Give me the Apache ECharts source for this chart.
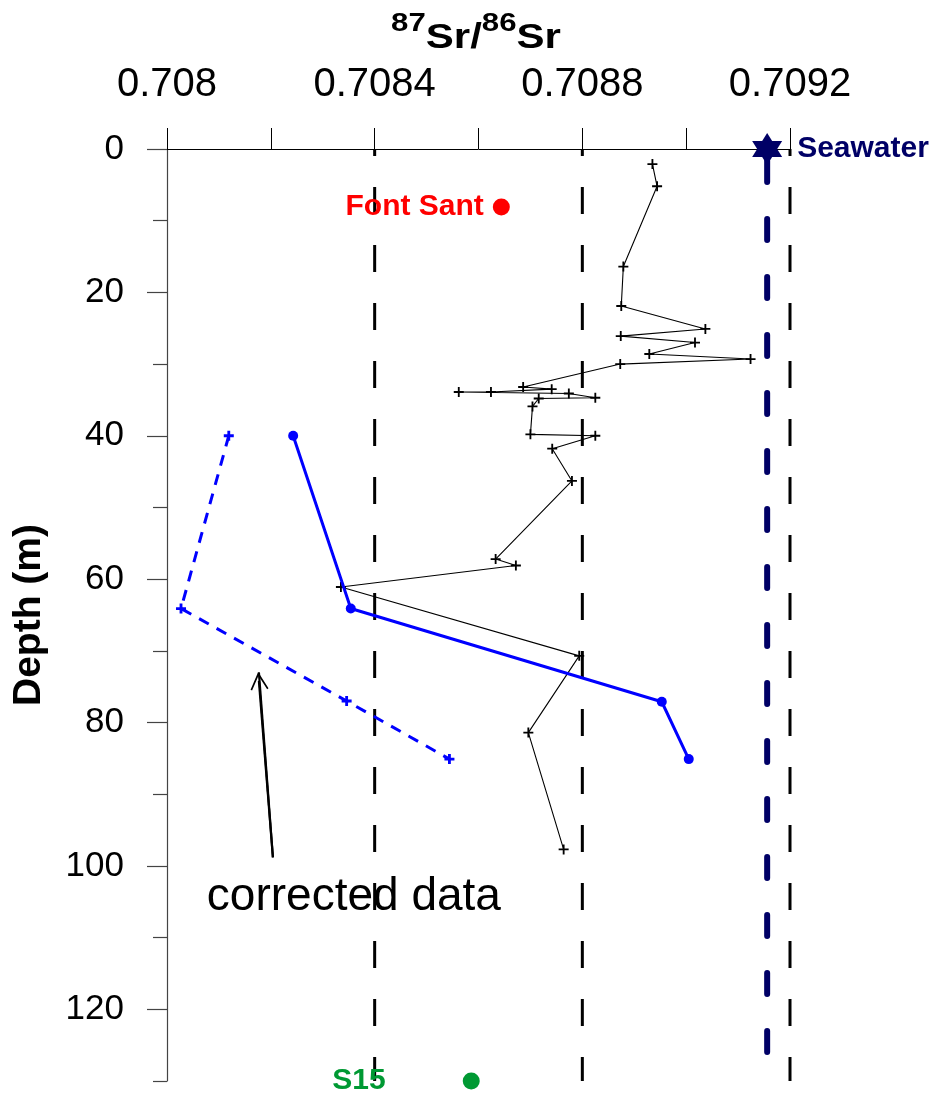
<!DOCTYPE html>
<html>
<head>
<meta charset="utf-8">
<script src="https://cdn.jsdelivr.net/npm/echarts@6/dist/echarts.min.js"></script>
<style>
html,body{margin:0;padding:0;background:#fff;}
#chart{width:932px;height:1100px;}
</style>
</head>
<body>
<div id="chart"></div>
<script>
// ---- data (x = 87Sr/86Sr, y = depth in m) ----
const measured = [
  [0.708935, 2.1], [0.708944, 5.2], [0.708879, 16.4], [0.708875, 21.9],
  [0.709037, 25.1], [0.708874, 26.1], [0.709017, 27.0], [0.708929, 28.6],
  [0.709124, 29.3], [0.708873, 30.0], [0.708686, 33.2], [0.708741, 33.5],
  [0.708624, 33.9], [0.708562, 33.9], [0.708774, 34.1], [0.708825, 34.7],
  [0.708716, 34.8], [0.708704, 35.9], [0.708700, 39.8], [0.708825, 40.0],
  [0.708742, 41.8], [0.708780, 46.3], [0.708633, 57.2], [0.708672, 58.1],
  [0.708335, 61.1], [0.708794, 70.7], [0.708696, 81.4], [0.708764, 97.7]
];
const blueSolid = [[0.708243, 40.0], [0.708354, 64.1], [0.708953, 77.1], [0.709005, 85.1]];
const corrected = [[0.708119, 40.0], [0.708027, 64.1], [0.708346, 77.0], [0.708544, 85.1]];
const guideValues = [0.7084, 0.7088, 0.7092];
const seawaterValue = 0.709156;
const fontSant = [0.708644, 8.1];
const s15 = [0.708586, 130];
const depthRange = [0, 130];
const xRange = [0.708, 0.7092];
const yTickValues = [0, 20, 40, 60, 80, 100, 120];
const yMinorTickValues = [10, 30, 50, 70, 90, 110, 130];
const arrowTail = [0.708204, 98.8];
const arrowTip = [0.708177, 73.0];
const arrowHeadCenter = [0.708177, 74.2];
const noteAnchor = [0.708360, 104.4];

const FONT = 'Liberation Sans';
const NAVY = '#000066';
const plusBlack = 'path://M-1.1,-6 L1.1,-6 L1.1,-1.1 L6,-1.1 L6,1.1 L1.1,1.1 L1.1,6 L-1.1,6 L-1.1,1.1 L-6,1.1 L-6,-1.1 L-1.1,-1.1 Z';
const plusBlue = 'path://M-1.7,-6 L1.7,-6 L1.7,-1.7 L6,-1.7 L6,1.7 L1.7,1.7 L1.7,6 L-1.7,6 L-1.7,1.7 L-6,1.7 L-6,-1.7 L-1.7,-1.7 Z';
const star6 = 'path://M0,-1 L0.866,0.5 L-0.866,0.5 Z M0,1 L-0.866,-0.5 L0.866,-0.5 Z';
const chevron = 'path://M0,0 L10,17 L8.4,18 L0,3.8 L-8.4,18 L-10,17 Z';

const chart = echarts.init(document.getElementById('chart'), null, {renderer: 'canvas'});

const guideSeries = guideValues.map(v => ({
  type: 'line', xAxisIndex: 0, yAxisIndex: 0, silent: true, clip: false,
  data: [[v, depthRange[0]], [v, depthRange[1]]],
  symbol: 'none',
  lineStyle: {color: '#000', width: 3, type: [27, 31], dashOffset: 20},
  z: 1
}));

const option = {
  animation: false,
  backgroundColor: '#fff',
  grid: {left: 167, right: 142, top: 149, bottom: 19, containLabel: false},
  xAxis: {
    type: 'value', position: 'top',
    min: xRange[0], max: xRange[1], interval: 0.0004,
    axisLine: {show: true, onZero: false, lineStyle: {color: '#000', width: 1}},
    axisTick: {show: true, inside: false, length: 21, lineStyle: {color: '#000', width: 1}},
    minorTick: {show: true, splitNumber: 2, length: 21, lineStyle: {color: '#000', width: 1}},
    splitLine: {show: false},
    axisLabel: {
      fontFamily: FONT, fontSize: 40, color: '#000', margin: 44,
      formatter: v => String(parseFloat(v.toFixed(5)))
    }
  },
  yAxis: [{
    type: 'value', inverse: true, position: 'left',
    min: depthRange[0], max: depthRange[1],
    name: 'Depth (m)', nameLocation: 'middle', nameRotate: 90, nameGap: 118,
    nameTextStyle: {fontFamily: FONT, fontSize: 39, fontWeight: 'bold', color: '#000'},
    axisLine: {show: true, onZero: false, lineStyle: {color: '#444', width: 1.2}},
    axisTick: {show: true, length: 20, customValues: yTickValues, lineStyle: {color: '#444', width: 1.2}},
    axisLabel: {fontFamily: FONT, fontSize: 35, color: '#000', margin: 43, customValues: yTickValues},
    splitLine: {show: false}
  }, {
    type: 'value', inverse: true, position: 'left',
    min: depthRange[0], max: depthRange[1],
    axisLine: {show: false},
    axisTick: {show: true, length: 14, customValues: yMinorTickValues, lineStyle: {color: '#444', width: 1.2}},
    axisLabel: {show: false},
    splitLine: {show: false}
  }],
  graphic: [{
    type: 'text', x: 476, y: 38, scaleX: 1.2,
    style: {
      text: '{sup|87}{main|Sr/}{sup|86}{main|Sr}',
      textAlign: 'center', textVerticalAlign: 'middle',
      fill: '#000',
      rich: {
        sup: {fontFamily: FONT, fontSize: 26, fontWeight: 'bold', fill: '#000', lineHeight: 26, verticalAlign: 'top'},
        main: {fontFamily: FONT, fontSize: 35, fontWeight: 'bold', fill: '#000', lineHeight: 54, verticalAlign: 'middle'}
      }
    }
  }],
  series: guideSeries.concat([
    {
      type: 'line', silent: true, clip: false,
      data: [[seawaterValue, depthRange[0]], [seawaterValue, depthRange[1]]],
      symbol: 'none',
      lineStyle: {color: NAVY, width: 6, type: [21, 37], dashOffset: 46, cap: 'round'},
      z: 2
    },
    {
      type: 'line', name: 'measured', data: measured,
      symbol: plusBlack, symbolSize: 10,
      itemStyle: {color: '#000'},
      lineStyle: {color: '#000', width: 1.1},
      z: 3
    },
    {
      type: 'line', name: 'solid', data: blueSolid,
      symbol: 'circle', symbolSize: 10,
      itemStyle: {color: '#0000ff'},
      lineStyle: {color: '#0000ff', width: 3},
      z: 4
    },
    {
      type: 'line', name: 'corrected', data: corrected,
      symbol: plusBlue, symbolSize: 10,
      itemStyle: {color: '#0000ff'},
      lineStyle: {color: '#0000ff', width: 3, type: [11, 9]},
      z: 4
    },
    {
      type: 'line', silent: true, data: [arrowTail, arrowTip], symbol: 'none',
      lineStyle: {color: '#000', width: 2.2},
      markLine: {
        silent: true, animation: false,
        symbol: ['none', chevron], symbolSize: 18,
        lineStyle: {color: '#000', width: 2.2, type: 'solid'},
        label: {show: false},
        data: [[{coord: arrowTail}, {coord: arrowHeadCenter}]]
      },
      z: 5
    },
    {
      type: 'scatter', silent: true, clip: false,
      data: [{name: 'corrected data', value: noteAnchor}],
      symbolSize: 1, itemStyle: {color: 'rgba(0,0,0,0)', opacity: 1},
      label: {show: true, position: 'inside', formatter: '{b}', fontFamily: FONT, fontSize: 46, color: '#000'},
      z: 6
    },
    {
      type: 'scatter', clip: false,
      data: [{name: 'Font Sant', value: fontSant}],
      symbol: 'circle', symbolSize: 17, itemStyle: {color: '#ff0000', opacity: 1},
      label: {show: true, position: 'left', distance: 9, formatter: '{b}', fontFamily: FONT, fontSize: 30, fontWeight: 'bold', color: '#ff0000'},
      z: 6
    },
    {
      type: 'scatter', clip: false,
      data: [{name: 'S15', value: s15}],
      symbol: 'circle', symbolSize: 17, itemStyle: {color: '#009933', opacity: 1},
      label: {show: true, position: 'left', distance: 77, formatter: '{b}', fontFamily: FONT, fontSize: 30, fontWeight: 'bold', color: '#009933'},
      z: 6
    },
    {
      type: 'scatter', clip: false,
      data: [{name: 'Seawater', value: [seawaterValue, 0]}],
      symbol: star6, symbolSize: [30, 32], itemStyle: {color: NAVY, opacity: 1},
      label: {show: true, position: 'right', distance: 15, formatter: '{b}', fontFamily: FONT, fontSize: 30, fontWeight: 'bold', color: NAVY},
      z: 7
    }
  ])
};
chart.setOption(option);
</script>
</body>
</html>
